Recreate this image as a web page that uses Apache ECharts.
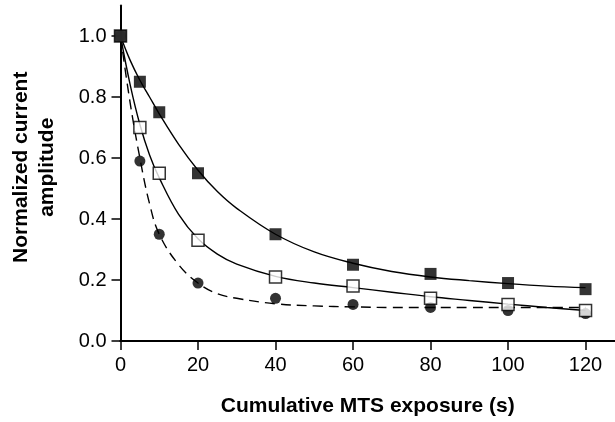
<!DOCTYPE html>
<html>
<head>
<meta charset="utf-8">
<script src="https://cdn.jsdelivr.net/npm/echarts@6/dist/echarts.min.js"></script>
<style>
  html, body { margin: 0; padding: 0; background: #fff; }
  #chart { width: 615px; height: 422px; }
</style>
</head>
<body>
<div id="chart"></div>
<script>
// Measured amplitudes at each cumulative exposure time (s)
const exposureTimes = [0, 5, 10, 20, 40, 60, 80, 100, 120];
const filledSquares = [1.0, 0.85, 0.75, 0.55, 0.35, 0.25, 0.22, 0.19, 0.17];
const openSquares   = [1.0, 0.70, 0.55, 0.33, 0.21, 0.18, 0.14, 0.12, 0.10];
const filledCircles = [1.0, 0.59, 0.35, 0.19, 0.14, 0.12, 0.11, 0.10, 0.09];

// Fitted decay curves, sampled along the time axis
const fitTimes       = [0, 2.5, 5, 7.5, 10, 15, 20, 25, 30, 40, 50, 60, 70, 80, 90, 100, 110, 120];
const fitFilledSq    = [1.0, 0.92, 0.855, 0.80, 0.745, 0.645, 0.56, 0.49, 0.435, 0.35, 0.292, 0.255, 0.228, 0.21, 0.198, 0.188, 0.18, 0.175];
const fitOpenSq      = [1.0, 0.84, 0.71, 0.61, 0.535, 0.415, 0.335, 0.285, 0.252, 0.212, 0.19, 0.175, 0.16, 0.145, 0.133, 0.121, 0.11, 0.10];
const fitCircles     = [1.0, 0.78, 0.60, 0.45, 0.35, 0.25, 0.19, 0.155, 0.14, 0.122, 0.115, 0.112, 0.11, 0.11, 0.11, 0.11, 0.11, 0.11];

const xTicks = [0, 20, 40, 60, 80, 100, 120];
const yTicks = [0, 0.2, 0.4, 0.6, 0.8, 1.0];

const pairs = (xs, ys) => xs.map((x, i) => [x, ys[i]]);
const FONT = '"Liberation Sans", Arial, Helvetica, sans-serif';

const chart = echarts.init(document.getElementById('chart'), null, { renderer: 'canvas' });

const fitLine = (data, dashed) => ({
  type: 'line',
  data: data,
  smooth: 0.4,
  symbol: 'none',
  z: 2,
  silent: true,
  lineStyle: { color: '#000', width: 1.4, type: dashed ? [10, 6] : 'solid' }
});

const points = (data, symbol, size, fill) => ({
  type: 'scatter',
  data: data,
  symbol: symbol,
  symbolSize: size,
  z: 5,
  itemStyle: { color: fill, borderColor: '#000', borderWidth: fill === '#fff' ? 1.5 : 0 }
});

chart.setOption({
  animation: false,
  grid: { left: 120.5, right: 0, top: 5.5, bottom: 81, containLabel: false, outerBoundsMode: 'none' },
  xAxis: [{
    type: 'value',
    min: 0,
    max: 127.6,
    position: 'bottom',
    axisLine: { show: true, onZero: false, lineStyle: { color: '#000', width: 2 } },
    axisTick: { show: true, length: 9, lineStyle: { color: '#000', width: 1.5 }, customValues: xTicks },
    axisLabel: { color: '#000', fontSize: 20, fontFamily: FONT, margin: 14, customValues: xTicks },
    splitLine: { show: false },
    name: 'Cumulative MTS exposure (s)',
    nameLocation: 'middle',
    nameGap: 55,
    nameTextStyle: { color: '#000', fontSize: 21, fontWeight: 'bold', fontFamily: FONT }
  }, {
    type: 'value',
    min: 0,
    max: 127.6,
    position: 'top',
    axisLine: { show: true, lineStyle: { color: '#000', width: 2 } },
    axisTick: { show: false },
    axisLabel: { show: false },
    splitLine: { show: false }
  }],
  yAxis: {
    type: 'value',
    min: 0,
    max: 1.1,
    axisLine: { show: true, onZero: false, lineStyle: { color: '#000', width: 2 } },
    axisTick: { show: true, length: 9, lineStyle: { color: '#000', width: 1.5 }, customValues: yTicks },
    axisLabel: {
      color: '#000', fontSize: 20, fontFamily: FONT, margin: 14,
      customValues: yTicks,
      formatter: v => v.toFixed(1)
    },
    splitLine: { show: false },
    name: 'Normalized current\namplitude',
    nameLocation: 'middle',
    nameGap: 60,
    nameTextStyle: {
      color: '#000', fontSize: 21, fontWeight: 'bold', fontFamily: FONT,
      lineHeight: 26, padding: [0, 0, 0, 12]
    }
  },
  series: [
    fitLine(pairs(fitTimes, fitFilledSq), false),
    fitLine(pairs(fitTimes, fitOpenSq), false),
    fitLine(pairs(fitTimes, fitCircles), true),
    points(pairs(exposureTimes, filledCircles), 'circle', 11, '#000'),
    points(pairs(exposureTimes, openSquares), 'rect', 12, '#fff'),
    points(pairs(exposureTimes, filledSquares), 'rect', 12, '#000')
  ]
});
</script>
</body>
</html>
